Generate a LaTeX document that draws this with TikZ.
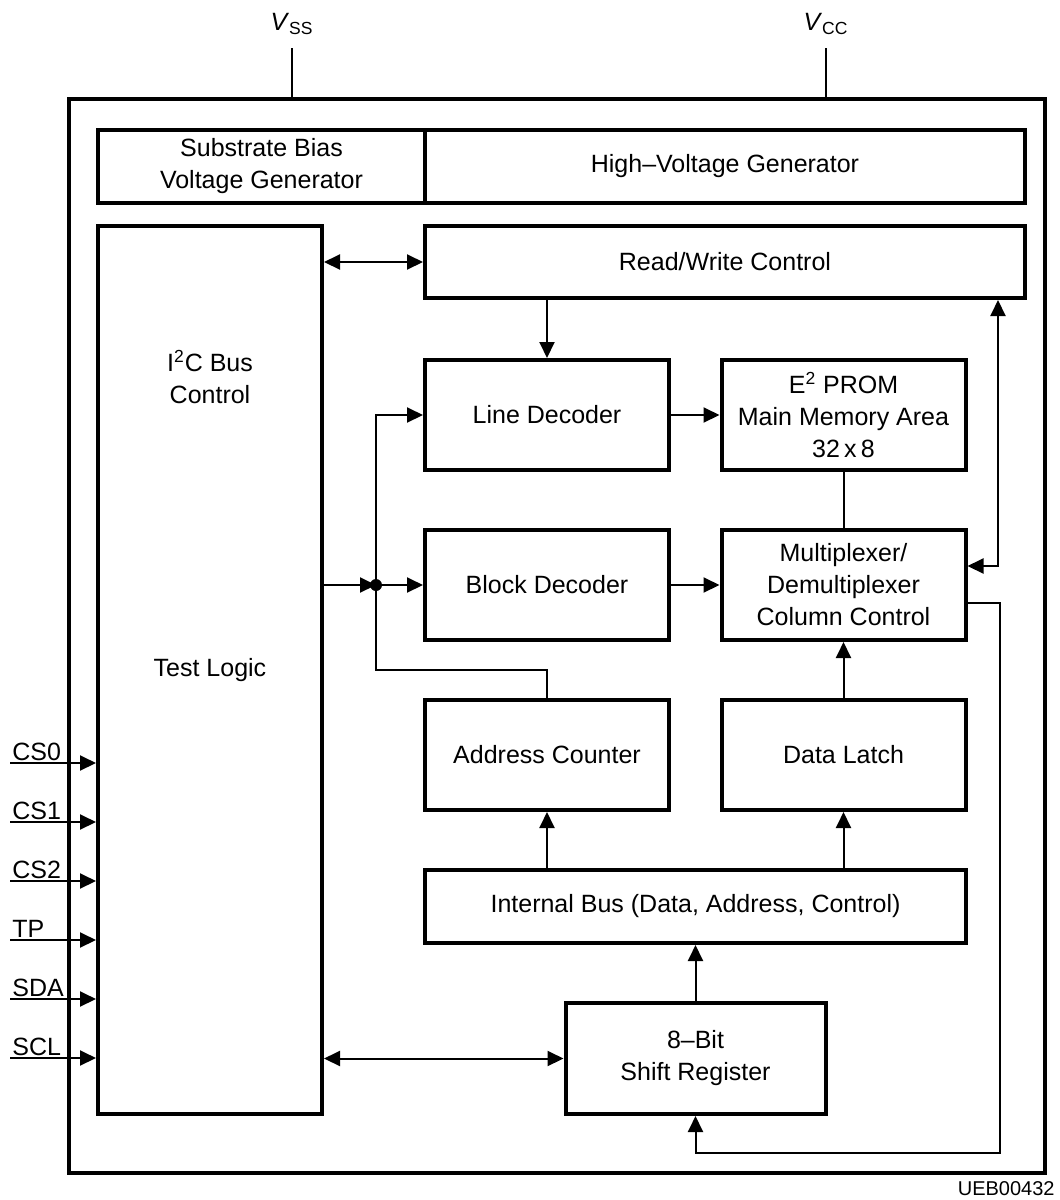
\documentclass[tikz,border=0pt]{standalone}
\usepackage{fontspec}
\setmainfont{Liberation Sans}
\usetikzlibrary{arrows.meta, calc}
\tikzset{
  blk/.style = {
    draw, line width=2pt, minimum width=122pt, minimum height=55pt,
    inner sep=0pt, align=center, font=\fontsize{12.5}{16}\selectfont
  },
  wide/.style = {
    blk, minimum height=36.5pt
  },
  lbl/.style = {
    inner sep=1pt, align=center, font=\fontsize{12.5}{16}\selectfont
  },
  wire/.style = {
    line width=1pt
  },
  arr/.style = {
    wire, -{Triangle[length=8pt,width=7.5pt]}
  },
  dbl/.style = {
    wire, {Triangle[length=8pt,width=7.5pt]}-{Triangle[length=8pt,width=7.5pt]}
  }
}

\begin{document}
\begin{tikzpicture}[x=0.5pt, y=-0.5pt]
  \fill[white] (0,0) rectangle (1060,1200);
  \useasboundingbox (0,0) rectangle (1060,1200);

  % Chip frame and supply pins
  \node[draw, line width=2pt, minimum width=488pt, minimum height=537pt] (frame) at (557,636) {};
  \node[lbl] (vss) at (292,24) {\textit{V}\textsubscript{SS}};
  \node[lbl] (vcc) at (826,24) {\textit{V}\textsubscript{CC}};
  \draw[wire] (vss.south |- 0,48) -- (vss.south |- frame.north);
  \draw[wire] (vcc.south |- 0,48) -- (vcc.south |- frame.north);

  % Generators
  \node[wide, minimum width=163.5pt] (bias) at (261.5,166) {Substrate Bias\\Voltage Generator};
  \node[wide, minimum width=300pt] (hv) at (725,166) {High--Voltage Generator};

  % Control logic column
  \node[blk, minimum width=112pt, minimum height=444pt] (tl) at (210,670) {};
  \node[lbl] (i2c) at (210,377) {I\textsuperscript{2}C Bus\\Control};
  \node[lbl] (test) at (210,670) {Test Logic};

  % Memory blocks
  \node[wide, minimum width=300pt, minimum height=36pt] (rw) at (725,262) {Read/Write Control};
  \node[blk] (ld) at (547,415) {Line Decoder};
  \node[blk] (e2) at (843.5,415) {E\textsuperscript{2} PROM\\Main Memory Area\\32\,x\,8};
  \node[blk] (bd) at (547,585) {Block Decoder};
  \node[blk] (mux) at (843.5,585) {Multiplexer/\\Demultiplexer\\Column Control};
  \node[blk] (ac) at (547,755) {Address Counter};
  \node[blk] (dl) at (843.5,755) {Data Latch};
  \node[wide, minimum width=270.5pt] (ib) at (695.5,906.5) {Internal Bus (Data, Address, Control)};
  \node[blk, minimum width=130pt, minimum height=55.5pt] (sr) at (695.5,1058.5) {8--Bit\\Shift Register};

  \coordinate (jn) at (376,585);
  \coordinate (rwj) at (998,566);
  \coordinate (fb) at (1000,1153);

  % Connections
  \draw[dbl] (tl.east |- rw.west) -- (rw.west);
  \draw[arr] (ld.north |- rw.south) -- (ld.north);
  \draw[arr] (ld) -- (e2);
  \draw[wire] (e2) -- (mux);
  \draw[arr] (bd) -- (mux);
  \draw[arr] (tl.east |- jn) -- (jn);
  \fill (jn) circle (3pt);
  \draw[arr] (jn) -- (bd);
  \draw[arr] (jn) |- (ld.west);
  \draw[wire] (jn) |- ($(bd.south)!0.5!(ac.north)$) -- (ac.north);
  \draw[arr] (dl) -- (mux);
  \draw[arr] (ib.north -| ac) -- (ac);
  \draw[arr] (ib.north -| dl) -- (dl);
  \draw[arr] (sr) -- (ib);
  \draw[dbl] (tl.east |- sr.west) -- (sr.west);
  \draw[dbl] (rw.south -| rwj) -- (rwj) -- (mux.east |- rwj);
  \draw[arr] ([yshift=-9pt]mux.east) -| (fb) -| (sr.south);

  % Input pins
  \foreach \pname [count=\i] in {CS0,CS1,CS2,TP,SDA,SCL} {
    \node[lbl, anchor=south west] (pin\i) at (10,{763+(\i-1)*59}) {\pname};
    \draw[arr] (pin\i.south west) -- (tl.west |- pin\i.south west);
  }

  \node[lbl, anchor=east, font=\fontsize{10}{12}\selectfont] (code) at (1057,1189) {UEB00432};
\end{tikzpicture}
\end{document}
